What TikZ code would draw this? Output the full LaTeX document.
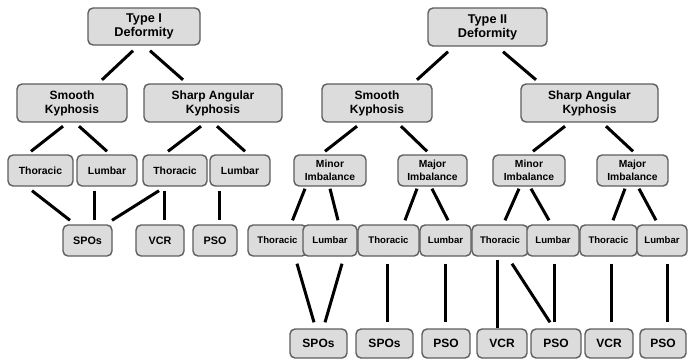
\documentclass[tikz,border=0pt]{standalone}
\usepackage{fontspec}
\setsansfont{Liberation Sans}
\definecolor{boxfill}{HTML}{DCDCDC}
\definecolor{boxline}{HTML}{5E5E5E}

\begin{document}
\begin{tikzpicture}[x=1pt, y=-1pt, blk/.style={draw=boxline, fill=boxfill, rounded corners=5pt, line width=1.4pt, align=center, inner sep=0pt}, lnk/.style={line width=3pt}, head/.style={font=\sffamily\bfseries\fontsize{12.7}{14}\selectfont}, kyph/.style={font=\sffamily\bfseries\fontsize{12}{14}\selectfont}, imb/.style={font=\sffamily\bfseries\fontsize{10.3}{13}\selectfont}, reg/.style={font=\sffamily\bfseries\fontsize{10.4}{12}\selectfont}, regs/.style={font=\sffamily\bfseries\fontsize{9.6}{11}\selectfont}, proc/.style={font=\sffamily\bfseries\fontsize{10.8}{12}\selectfont}, procb/.style={font=\sffamily\bfseries\fontsize{12}{14}\selectfont}]
	\useasboundingbox (0,0) rectangle (688,360);
	% type I
	\node[blk, head, minimum width=112, minimum height=37] (t1) at (144,26.5) {Type I\\Deformity};
	\node[blk, kyph, minimum width=110, minimum height=38] (s1) at (72,103) {Smooth\\Kyphosis};
	\node[blk, kyph, minimum width=138, minimum height=38] (a1) at (213,103) {Sharp Angular\\Kyphosis};
	\node[blk, reg, minimum width=65, minimum height=31] (th1) at (40.5,170.5) {Thoracic};
	\node[blk, reg, minimum width=60, minimum height=31] (lu1) at (107,170.5) {Lumbar};
	\node[blk, reg, minimum width=64, minimum height=31] (th2) at (175,170.5) {Thoracic};
	\node[blk, reg, minimum width=60, minimum height=31] (lu2) at (240,170.5) {Lumbar};
	\node[blk, proc, minimum width=49, minimum height=31] (spo1) at (87.5,240.5) {SPOs};
	\node[blk, proc, minimum width=48, minimum height=31] (vcr1) at (160,240.5) {VCR};
	\node[blk, proc, minimum width=44, minimum height=31] (pso1) at (215,240.5) {PSO};
	% type II
	\node[blk, head, minimum width=119, minimum height=38] (t2) at (487.5,27) {Type II\\Deformity};
	\node[blk, kyph, minimum width=110, minimum height=38] (s2) at (377,103) {Smooth\\Kyphosis};
	\node[blk, kyph, minimum width=137, minimum height=38] (a2) at (589.5,103) {Sharp Angular\\Kyphosis};
	\node[blk, imb, minimum width=72, minimum height=31] (mi1) at (330,170.5) {Minor\\Imbalance};
	\node[blk, imb, minimum width=69, minimum height=31] (ma1) at (432.5,170.5) {Major\\Imbalance};
	\node[blk, imb, minimum width=72, minimum height=31] (mi2) at (529,170.5) {Minor\\Imbalance};
	\node[blk, imb, minimum width=71, minimum height=31] (ma2) at (632.5,170.5) {Major\\Imbalance};
	\node[blk, regs, minimum width=59, minimum height=31] (th3) at (277.5,240.5) {Thoracic};
	\node[blk, regs, minimum width=54, minimum height=31] (lu3) at (330,240.5) {Lumbar};
	\node[blk, regs, minimum width=61, minimum height=31] (th4) at (388.5,240.5) {Thoracic};
	\node[blk, regs, minimum width=51, minimum height=31] (lu4) at (445.5,240.5) {Lumbar};
	\node[blk, regs, minimum width=56, minimum height=31] (th5) at (500,240.5) {Thoracic};
	\node[blk, regs, minimum width=52, minimum height=31] (lu5) at (553,240.5) {Lumbar};
	\node[blk, regs, minimum width=57, minimum height=31] (th6) at (608.5,240.5) {Thoracic};
	\node[blk, regs, minimum width=50, minimum height=31] (lu6) at (662,240.5) {Lumbar};
	\node[blk, procb, minimum width=57, minimum height=29] (spo2) at (318.5,343.5) {SPOs};
	\node[blk, procb, minimum width=57, minimum height=29] (spo3) at (384.5,343.5) {SPOs};
	\node[blk, procb, minimum width=48, minimum height=29] (pso2) at (446,343.5) {PSO};
	\node[blk, procb, minimum width=50, minimum height=29] (vcr2) at (502,343.5) {VCR};
	\node[blk, procb, minimum width=50, minimum height=29] (pso3) at (556,343.5) {PSO};
	\node[blk, procb, minimum width=48, minimum height=29] (vcr3) at (609,343.5) {VCR};
	\node[blk, procb, minimum width=46, minimum height=29] (pso4) at (663,343.5) {PSO};
	% links
	\foreach \p/\px/\c/\cx in {t1/-11/s1/30, t1/6/a1/-30, t2/-39.5/s2/40, t2/15.5/a2/-53.5}
		\draw[lnk] ([xshift=\px, yshift=-5]\p.south) -- ([xshift=\cx, yshift=3.5]\c.north);
	\foreach \p/\px/\c/\cx in {s1/-9/th1/-9.5, s1/7/lu1/0, a1/-12/th2/-7, a1/4/lu2/5, s2/-20/mi1/-5, s2/24/ma1/-5.5, a2/-24.5/mi2/4, a2/16.5/ma2/0.5}
		\draw[lnk] ([xshift=\px, yshift=-3.5]\p.south) -- ([xshift=\cx, yshift=3]\c.north);
	\foreach \p/\px/\c/\cx in {th1/-8.5/spo1/-17.5, lu1/-13/spo1/6.5, th2/-16/spo1/24.5, th2/-11/vcr1/4, lu2/-21/pso1/4}
		\draw[lnk] ([xshift=\px, yshift=-4]\p.south) -- ([xshift=\cx, yshift=4]\c.north);
	\foreach \p/\px/\c/\cx in {mi1/-25/th3/15, mi1/0/lu3/8, ma1/-15.5/th4/16.5, ma1/-0.5/lu4/2.5, mi2/-10/th5/5, mi2/2/lu5/-4, ma2/-7.5/th6/4.5, ma2/6.5/lu6/-6}
		\draw[lnk] ([xshift=\px, yshift=-2]\p.south) -- ([xshift=\cx, yshift=4]\c.north);
	\foreach \p/\px/\c/\cx in {th3/19.5/spo2/-4.5, lu3/12/spo2/6.5, th4/-1.5/spo3/2.5, lu4/-0.5/pso2/-1, th5/12/pso3/-6, lu5/1/pso3/-2, th6/2.5/vcr3/2, lu6/5/pso4/4}
		\draw[lnk] ([xshift=\px, yshift=-7]\p.south) -- ([xshift=\cx, yshift=6]\c.north);
	\draw[lnk] ([xshift=-3, yshift=-3]th5.south) -- ([xshift=-5]vcr2.north);
\end{tikzpicture}
\end{document}
